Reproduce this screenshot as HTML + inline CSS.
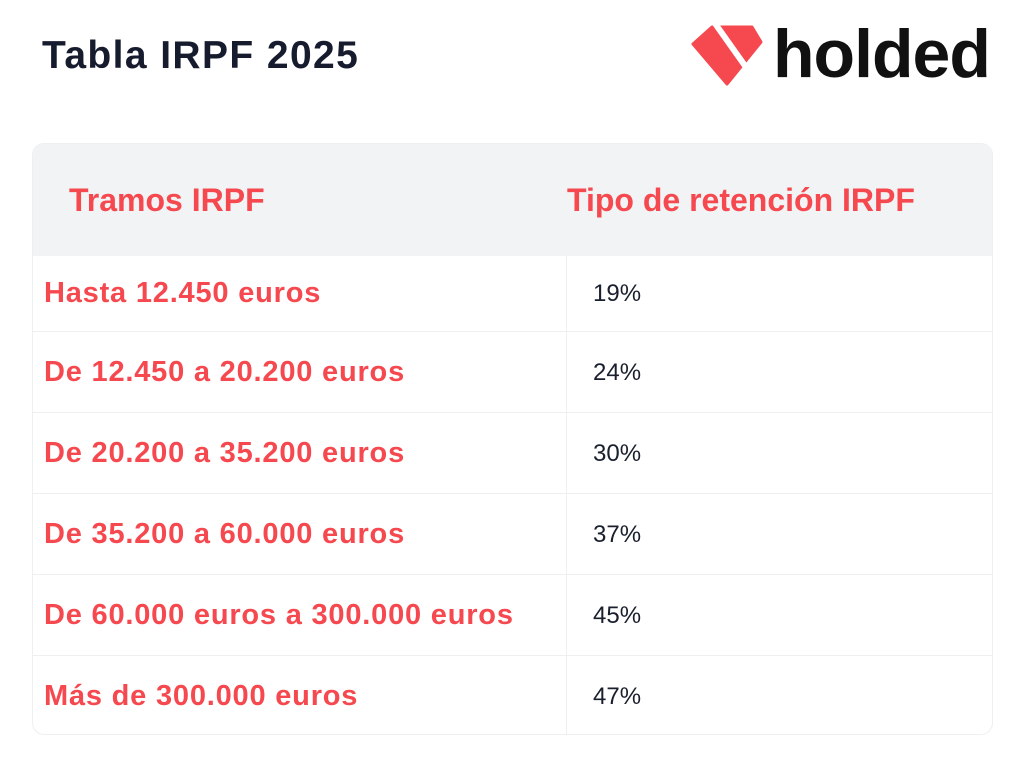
<!DOCTYPE html>
<html><head><meta charset="utf-8"><style>
body{margin:0;width:1024px;height:770px;background:#fff;font-family:"Liberation Sans",sans-serif;position:relative;overflow:hidden}
.title{position:absolute;left:42px;top:34px;font-size:39px;font-weight:bold;color:#161b2e;letter-spacing:1.4px}
.logo-text{position:absolute;left:773px;top:15px;font-size:68px;font-weight:bold;color:#111;letter-spacing:-1px}
.tbl{position:absolute;left:32px;top:143px;width:961px;height:592px;border:1px solid #eeeff1;border-radius:12px;overflow:hidden;box-sizing:border-box}
.head{position:absolute;left:0;top:0;width:100%;height:112px;background:#f2f3f5}
.h{position:absolute;top:38px;font-size:32px;font-weight:bold;color:#f5484f}
.row{position:absolute;left:0;width:100%;border-top:1px solid #eeeff1;box-sizing:border-box}
.c1{position:absolute;left:11px;font-size:29px;font-weight:bold;color:#f5484f;letter-spacing:0.8px}
.c2{position:absolute;left:560px;font-size:24px;color:#1a1f2e}
.div{position:absolute;left:533px;top:112px;width:1px;height:480px;background:#eeeff1}
</style></head><body>
<div class="title">Tabla IRPF 2025</div>
<svg style="position:absolute;left:0;top:0" width="1024" height="100">
<polygon points="712,27 752,27 761,42 727,84 693,44" fill="#f5484f" stroke="#f5484f" stroke-width="3" stroke-linejoin="round"/>
<line x1="714" y1="22" x2="748" y2="70" stroke="#fff" stroke-width="6"/>
</svg>
<div class="logo-text">holded</div>
<div class="tbl">
<div class="head">
<div class="h" style="left:36px">Tramos IRPF</div>
<div class="h" style="left:534px">Tipo de retención IRPF</div>
</div>
<div class="div"></div>
<div id="rows"></div>
</div>
<script>
const tramos=["Hasta 12.450 euros","De 12.450 a 20.200 euros","De 20.200 a 35.200 euros","De 35.200 a 60.000 euros","De 60.000 euros a 300.000 euros","Más de 300.000 euros"];
const tipos=["19%","24%","30%","37%","45%","47%"];
const tops=[112,187,268,349,430,511];
const hs=[75,81,81,81,81,81];
const rc=document.getElementById('rows');
tramos.forEach((t,i)=>{
const r=document.createElement('div');r.className='row';


r.style.top=tops[i]+'px';r.style.height=hs[i]+'px';
if(i===0)r.style.borderTop='none';
const a=document.createElement('div');a.className='c1';a.textContent=t;


a.style.top=(hs[i]/2-17)+'px';
const b=document.createElement('div');b.className='c2';b.textContent=tipos[i];


b.style.top=(hs[i]/2-14)+'px';
r.appendChild(a);r.appendChild(b);rc.appendChild(r);
});
</script>
</body></html>
